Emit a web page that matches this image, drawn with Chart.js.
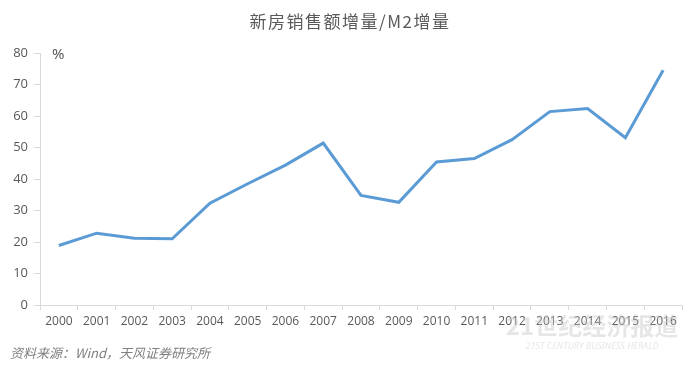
<!DOCTYPE html>
<html>
<head>
<meta charset="utf-8">
<script src="https://cdn.jsdelivr.net/npm/chart.js@4/dist/chart.umd.min.js"></script>
<style>
  body { margin: 0; background: #fff; }
  .wrap { width: 700px; height: 370px; position: relative; }
</style>
</head>
<body>
<div class="wrap"><canvas id="line-chart"></canvas></div>
<script>
const years = ["2000", "2001", "2002", "2003", "2004", "2005", "2006", "2007", "2008",
  "2009", "2010", "2011", "2012", "2013", "2014", "2015", "2016"];
const ratio = [18.9, 22.8, 21.2, 21.0, 32.3, 38.5, 44.4, 51.4, 34.8,
  32.6, 45.4, 46.5, 52.5, 61.4, 62.4, 53.1, 74.5];
const yTicks = [0, 10, 20, 30, 40, 50, 60, 70, 80];

const titleText = "新房销售额增量/M2增量";
const sourceText = "资料来源：Wind，天风证券研究所";

const textColor = "#595959";
const axisColor = "#d9d9d9";

// title, unit, source and watermark drawn straight on the canvas
const extras = {
  id: "extras",
  afterDraw(chart) {
    const ctx = chart.ctx;
    ctx.save();
    ctx.fillStyle = textColor;
    ctx.font = "17px 'Noto Sans CJK SC'";
    ctx.letterSpacing = "1.5px";
    ctx.textAlign = "center";
    ctx.textBaseline = "middle";
    ctx.fillText(titleText, 350, 22);
    ctx.letterSpacing = "0px";

    ctx.font = "15px 'Noto Sans', sans-serif";
    ctx.textAlign = "left";
    ctx.fillText("%", 52, 55);

    ctx.font = "italic 13px 'Noto Sans CJK SC'";
    ctx.fillStyle = "#7f7f7f";
    ctx.fillText(sourceText, 10, 353);

    ctx.fillStyle = "rgba(200,200,200,0.45)";
    ctx.font = "bold 24px 'Noto Sans CJK SC'";
    ctx.textAlign = "center";
    ctx.fillText("21世纪经济报道", 592, 326);
    ctx.font = "italic 9px 'Noto Sans', sans-serif";
    ctx.fillText("21ST CENTURY BUSINESS HERALD", 592, 346);
    ctx.restore();
  }
};

new Chart(document.getElementById("line-chart"), {
  type: "line",
  data: {
    labels: years,
    datasets: [{
      label: "新房销售额增量/M2增量",
      data: ratio,
      borderColor: "#5b9bd5",
      backgroundColor: "transparent",
      borderWidth: 3,
      pointRadius: 0,
      lineTension: 0,
    }],
  },
  options: {
    responsive: true,
    maintainAspectRatio: false,
    animation: false,
    layout: { padding: { top: 53, right: 18, bottom: 35, left: 0 } },
    scales: {
      x: {
        offset: true,
        grid: { offset: true, drawOnChartArea: false, drawTicks: true, tickLength: 5, color: axisColor },
        border: { color: axisColor },
        ticks: { color: textColor, font: { family: "'Open Sans'", size: 12 }, padding: 4, maxRotation: 0, autoSkip: false },
        afterFit(scale) { scale.height = 30; },
      },
      y: {
        min: 0,
        max: 80,
        afterBuildTicks(scale) { scale.ticks = yTicks.map(v => ({ value: v })); },
        grid: { drawOnChartArea: false, drawTicks: true, tickLength: 6, color: axisColor },
        border: { color: axisColor },
        ticks: { color: textColor, font: { family: "'Open Sans'", size: 13 }, padding: 6 },
        afterFit(scale) { scale.width = 40; },
      },
    },
    plugins: {
      legend: { display: false },
      tooltip: { enabled: false },
    },
  },
  plugins: [extras],
});
</script>
</body>
</html>
